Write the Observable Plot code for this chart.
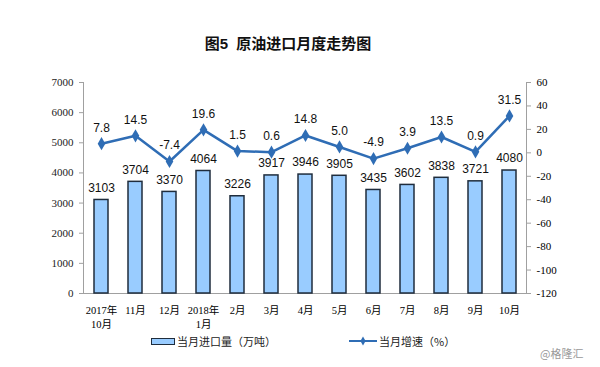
<!DOCTYPE html>
<html>
<head>
<meta charset="utf-8">
<script src="https://cdn.jsdelivr.net/npm/d3@7"></script>
<script src="https://cdn.jsdelivr.net/npm/@observablehq/plot@0.6"></script>
<style>
  body { margin: 0; background: #fff; }
  #wrap { position: relative; width: 600px; height: 367px; overflow: hidden; font-family: "Liberation Sans", "Noto Sans CJK SC", sans-serif; }
  #wrap svg { position: absolute; left: 0; top: 0; }
  .title { position: absolute; top: 32px; left: -12px; width: 600px; text-align: center; font-size: 15px; font-weight: bold; color: #111; font-family: "Liberation Sans", "Noto Sans CJK SC", sans-serif; }
  .leg { position: absolute; top: 333px; font-size: 11px; color: #222; display: flex; align-items: center; font-family: "Noto Sans CJK SC", sans-serif; }
  .sw { width: 22px; height: 5px; background: #99ccff; border: 1.2px solid #1f2d3d; margin-right: 2px; }
  .wm { position: absolute; left: 540px; top: 345px; font-size: 11px; color: #999; font-family: "Noto Sans CJK SC", sans-serif; }
</style>
</head>
<body>
<div id="wrap">
  <div class="title">图5&nbsp;&nbsp;原油进口月度走势图</div>
  <div class="leg" style="left:151px"><div class="sw"></div>当月进口量（万吨）</div>
  <div class="leg" style="left:349px"><svg id="lsw" width="28" height="10" style="position:static;margin-right:2px"></svg>当月增速（%）</div>
  <div class="wm">@格隆汇</div>
</div>
<script>
const months = ["2017年\n10月","11月","12月","2018年\n1月","2月","3月","4月","5月","6月","7月","8月","9月","10月"];
const imports = [3103, 3704, 3370, 4064, 3226, 3917, 3946, 3905, 3435, 3602, 3838, 3721, 4080];
const growth = [7.8, 14.5, -7.4, 19.6, 1.5, 0.6, 14.8, 5.0, -4.9, 3.9, 13.5, 0.9, 31.5];
const leftTicks = [0, 1000, 2000, 3000, 4000, 5000, 6000, 7000];
const rightTicks = [-120, -100, -80, -60, -40, -20, 0, 20, 40, 60];

const leftMax = 7000, rMin = -120, rMax = 60;
const toLeft = v => (v - rMin) / (rMax - rMin) * leftMax;
const fromLeft = p => Math.round(p / leftMax * (rMax - rMin) + rMin);

const data = months.map((m, i) => ({m, imp: imports[i], g: growth[i], gy: toLeft(growth[i])}));

const barFill = "#99ccff", barStroke = "#1f2d3d", lineColor = "#2f6db5", axisColor = "#a0a0a0";
const tickFont = "Liberation Serif, Noto Sans CJK SC, serif";

const chart = Plot.plot({
  width: 600,
  height: 367,
  marginTop: 82,
  marginBottom: 74,
  marginLeft: 83,
  marginRight: 74,
  style: {fontFamily: "Liberation Sans, sans-serif", background: "transparent", overflow: "visible"},
  x: {domain: months, paddingInner: 0.6, paddingOuter: 0.3, label: null},
  y: {domain: [0, leftMax], label: null},
  marks: [
    Plot.axisY({ticks: leftTicks, anchor: "left", tickSize: 4, tickPadding: 6, stroke: axisColor, fontSize: 11, fontFamily: tickFont, color: "#222", label: null, tickFormat: d => String(d)}),
    Plot.axisY(rightTicks.map(toLeft), {anchor: "right", tickSize: 4, tickPadding: 6, stroke: axisColor, fontSize: 11, fontFamily: tickFont, label: null, tickFormat: p => String(fromLeft(p))}),
    Plot.axisX({tickSize: 0, tickPadding: 10, fontSize: 10.5, fontFamily: tickFont, label: null, lineHeight: 1.35}),
    Plot.frame({anchor: "left", stroke: axisColor}),
    Plot.frame({anchor: "right", stroke: axisColor}),
    Plot.frame({anchor: "bottom", stroke: axisColor}),
    Plot.barY(data, {x: "m", y: "imp", fill: barFill, stroke: barStroke, strokeWidth: 1.5}),
    Plot.text(data, {x: "m", y: "imp", text: d => String(d.imp), dy: -12, fontSize: 12, fill: "#111"}),
    Plot.line(data, {x: "m", y: "gy", stroke: lineColor, strokeWidth: 2.5}),
    Plot.dot(data, {x: "m", y: "gy", symbol: "diamond", r: 4, fill: lineColor}),
    Plot.text(data, {x: "m", y: "gy", text: d => d.g.toFixed(1), dy: -16, fontSize: 12, fill: "#111"})
  ]
});
document.getElementById("wrap").insertBefore(chart, document.getElementById("wrap").firstChild);

// legend line swatch
const lsw = d3.select("#lsw");
lsw.append("line").attr("x1", 0).attr("x2", 28).attr("y1", 5).attr("y2", 5).attr("stroke", lineColor).attr("stroke-width", 2);
lsw.append("path").attr("d", d3.symbol(d3.symbolDiamond, 24)()).attr("transform", "translate(14,5)").attr("fill", lineColor);
</script>
</body>
</html>
